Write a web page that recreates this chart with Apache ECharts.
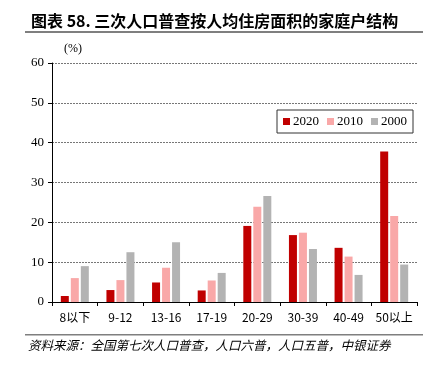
<!DOCTYPE html>
<html><head><meta charset="utf-8">
<script src="https://cdn.jsdelivr.net/npm/echarts@6/dist/echarts.min.js"></script>
<style>html,body{margin:0;padding:0;background:#fff}#c{width:435px;height:367px}</style>
</head><body><div id="c"></div>
<script>
const categories = ['8以下','9-12','13-16','17-19','20-29','30-39','40-49','50以上'];
const v2020 = [1.5, 3.0, 4.9, 2.9, 19.1, 16.8, 13.6, 37.8];
const v2010 = [6.0, 5.5, 8.6, 5.4, 23.9, 17.4, 11.4, 21.6];
const v2000 = [9.0, 12.5, 15.0, 7.3, 26.6, 13.3, 6.8, 9.4];
const yTicks = [0, 10, 20, 30, 40, 50, 60];

const chart = echarts.init(document.getElementById('c'));
chart.setOption({
  animation: false,
  title: {
    text: '图表 58. 三次人口普查按人均住房面积的家庭户结构',
    left: 26, top: 8,
    textStyle: {fontFamily: 'Noto Sans CJK SC', fontWeight: 'bold', fontSize: 16, color: '#000'}
  },
  legend: {
    data: ['2020','2010','2000'],
    right: 22, top: 110,
    itemWidth: 7, itemHeight: 7, itemGap: 8,
    icon: 'rect',
    borderColor: '#333', borderWidth: 1, padding: [5, 6, 5, 6],
    textStyle: {fontFamily: 'Liberation Serif', fontSize: 13, color: '#000', padding: [0,0,0,-2]}
  },
  grid: {left: 52, right: 18, top: 63, bottom: 65},
  xAxis: {
    type: 'category', data: categories,
    axisLine: {lineStyle: {color: '#000', width: 1}},
    axisTick: {show: true, alignWithLabel: false, length: 4, lineStyle: {color: '#000'}},
    axisLabel: {fontFamily: 'Noto Sans CJK SC', fontSize: 12, color: '#000', margin: 9, interval: 0}
  },
  yAxis: {
    type: 'value', min: 0, max: 60, interval: 10,
    name: '(%)', nameLocation: 'end', nameGap: 8,
    nameTextStyle: {fontFamily: 'Liberation Serif', fontSize: 12, color: '#000', padding: [0, 0, 0, 42]},
    axisLine: {show: true, lineStyle: {color: '#000', width: 1}},
    axisTick: {show: true, length: 4, lineStyle: {color: '#000'}},
    axisLabel: {fontFamily: 'Liberation Serif', fontSize: 13, color: '#000', margin: 8,
      formatter: v => yTicks.includes(v) ? String(v) : ''},
    splitLine: {show: true, lineStyle: {color: '#777', type: [2, 1], width: 1}}
  },
  series: [
    {name: '2020', type: 'bar', data: v2020, barWidth: 8, barGap: '25%', itemStyle: {color: '#C00000'}},
    {name: '2010', type: 'bar', data: v2010, barWidth: 8, barGap: '25%', itemStyle: {color: '#F9A8A8'}},
    {name: '2000', type: 'bar', data: v2000, barWidth: 8, barGap: '25%', itemStyle: {color: '#B3B3B3'}}
  ],
  graphic: [
    {type: 'rect', shape: {x: 25, y: 31, width: 398, height: 2}, style: {fill: '#7f7f7f'}},
    {type: 'rect', shape: {x: 25, y: 334, width: 398, height: 1.5}, style: {fill: '#7f7f7f'}},
    {type: 'text', left: 28, top: 339, style: {text: '资料来源：全国第七次人口普查，人口六普，人口五普，中银证券',
      font: 'italic 12.5px "Noto Sans CJK SC"', fill: '#000'}}
  ]
});
</script></body></html>
